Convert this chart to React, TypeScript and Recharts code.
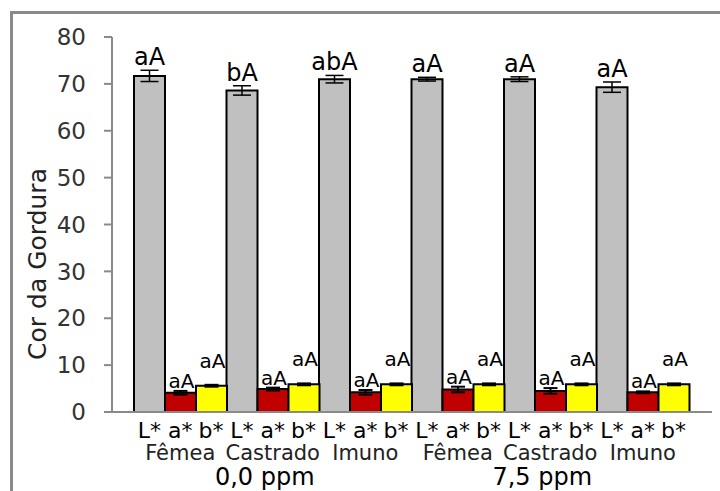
import { Bar, BarChart, ErrorBar, LabelList, XAxis, YAxis } from 'recharts';

const groups = ['Fêmea', 'Castrado', 'Imuno', 'Fêmea', 'Castrado', 'Imuno'];
const doses = ['0,0 ppm', '7,5 ppm'];
const seriesTicks = ['L*', 'a*', 'b*'];

const lValues = [71.7, 68.6, 71.0, 71.0, 71.0, 69.3];
const lErrors = [1.2, 1.0, 0.8, 0.4, 0.5, 1.1];
const aValues = [4.1, 4.9, 4.2, 4.8, 4.5, 4.2];
const aErrors = [0.4, 0.3, 0.5, 0.6, 0.6, 0.2];
const bValues = [5.6, 5.9, 5.9, 5.9, 5.9, 5.9];
const bErrors = [0.2, 0.2, 0.2, 0.2, 0.2, 0.2];

const lLetters = ['aA', 'bA', 'abA', 'aA', 'aA', 'aA'];
const aLetters = ['aA', 'aA', 'aA', 'aA', 'aA', 'aA'];
const bLetters = ['aA', 'aA', 'aA', 'aA', 'aA', 'aA'];

const yTicks = [0, 10, 20, 30, 40, 50, 60, 70, 80];

const data = groups.map((g, i) => ({
  key: `${g}-${i}`,
  group: g,
  L: lValues[i],
  lErr: lErrors[i],
  A: aValues[i],
  aErr: aErrors[i],
  B: bValues[i],
  bErr: bErrors[i],
}));

const FONT = '"DejaVu Sans", sans-serif';

function makeLabel(letters: string[], errors: number[], values: number[], gap: number, dx: number, size: number) {
  return (props: any) => {
    const { x, y, width, height, index } = props;
    const perUnit = height / values[index];
    const top = y - errors[index] * perUnit;
    return (
      <text x={x + width / 2 + dx} y={top - gap} textAnchor="middle" fontSize={size} fontFamily={FONT} fill="#000">
        {letters[index]}
      </text>
    );
  };
}

function GroupTick(props: any) {
  const { x, y, payload } = props;
  const idx = payload.index;
  const bw = 30.8;
  return (
    <g>
      {seriesTicks.map((s, i) => (
        <text key={s} x={x + (i - 1) * bw} y={y + 26} textAnchor="middle" fontSize={22} fontFamily={FONT} fill="#000">
          {s}
        </text>
      ))}
      <text x={x} y={y + 48} textAnchor="middle" fontSize={21} fontFamily={FONT} fill="#222">
        {groups[idx]}
      </text>
      {idx % 3 === 1 && (
        <text x={x - 8} y={y + 73} textAnchor="middle" fontSize={24} fontFamily={FONT} fill="#000">
          {doses[Math.floor(idx / 3)]}
        </text>
      )}
    </g>
  );
}

function YLabel() {
  return (
    <text x={46} y={264} transform="rotate(-90 46 264)" textAnchor="middle" fontSize={25} fontFamily={FONT} fill="#222">
      Cor da Gordura
    </text>
  );
}

export default function App() {
  return (
    <div style={{ position: 'absolute', left: 0, top: 0, width: 720, height: 491, background: '#fff', overflow: 'hidden' }}>
      <div
        style={{
          position: 'absolute',
          left: 10,
          top: 11,
          width: 760,
          height: 540,
          border: '3px solid #8a8a8a',
          boxSizing: 'border-box',
        }}
      />
      <div style={{ position: 'absolute', left: 0, top: 0 }}>
        <BarChart
          width={720}
          height={491}
          data={data}
          margin={{ top: 37, right: 8, bottom: 0, left: 0 }}
          barCategoryGap={0}
          barGap={0}
        >
          <XAxis
            dataKey="key"
            height={79}
            padding={{ left: 22, right: 23 }}
            axisLine={{ stroke: '#8a8a8a', strokeWidth: 2 }}
            tickLine={false}
            tickSize={0}
            tickMargin={0}
            interval={0}
            tick={<GroupTick />}
          />
          <YAxis
            width={112}
            domain={[0, 80]}
            ticks={yTicks}
            interval={0}
            axisLine={{ stroke: '#8a8a8a', strokeWidth: 2 }}
            tickLine={{ stroke: '#8a8a8a', strokeWidth: 2 }}
            tickSize={8}
            tickMargin={18}
            tick={{ fontSize: 23, fontFamily: FONT, fill: '#333' }}
            label={<YLabel />}
          />
          <Bar dataKey="L" fill="#c0c0c0" stroke="#000" strokeWidth={2} isAnimationActive={false}>
            <ErrorBar dataKey="lErr" width={9} stroke="#000" strokeWidth={1.5} />
            <LabelList dataKey="L" content={makeLabel(lLetters, lErrors, lValues, 5, 0, 24)} />
          </Bar>
          <Bar dataKey="A" fill="#c00000" stroke="#000" strokeWidth={2} isAnimationActive={false}>
            <ErrorBar dataKey="aErr" width={7} stroke="#000" strokeWidth={2} />
            <LabelList dataKey="A" content={makeLabel(aLetters, aErrors, aValues, 3, 1, 20)} />
          </Bar>
          <Bar dataKey="B" fill="#ffff00" stroke="#000" strokeWidth={2} isAnimationActive={false}>
            <ErrorBar dataKey="bErr" width={7} stroke="#000" strokeWidth={2} />
            <LabelList dataKey="B" content={makeLabel(bLetters, bErrors, bValues, 17, 1, 20)} />
          </Bar>
        </BarChart>
      </div>
    </div>
  );
}
